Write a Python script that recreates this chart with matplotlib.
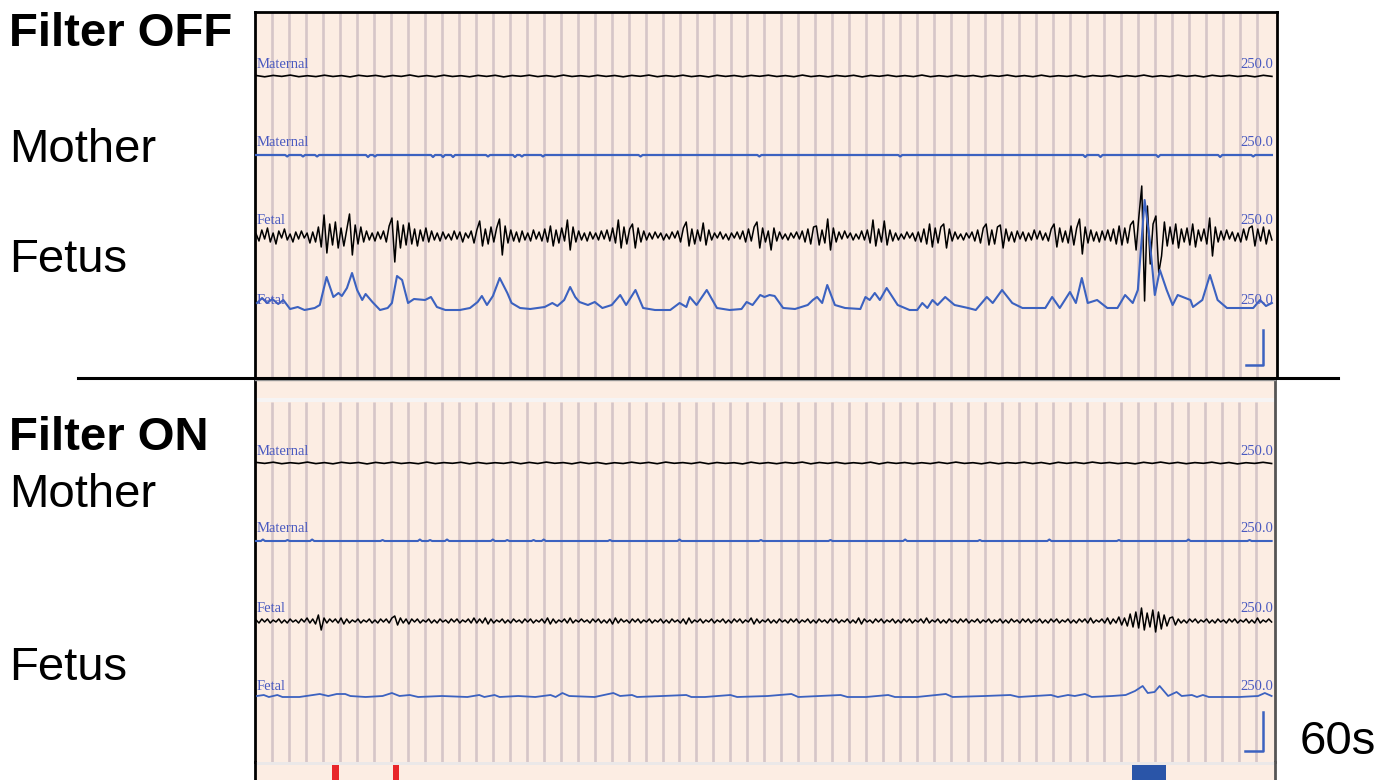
import matplotlib.pyplot as plt
from matplotlib.lines import Line2D
import numpy as np

W, H = 1390, 780          # figure size in px
PEACH = '#fcede3'
GRID = '#d6c6c8'
TRACE_BLUE = '#3c62c0'
LABEL_BLUE = '#4a5ac0'

# ---------------- recorded traces (amplitude in px, up is positive) ----------------
# time axis: 60 min per strip, one grid division = 1 min

# Filter OFF, maternal lead (black)
off_mat_black = [
    0.5, -0.8, 0.6, -0.4, 0.9, -0.7, 0.3, -0.6, 0.8, -0.5, 0.4, -0.9, 0.7, -0.3, 0.6, -0.8, 0.5, -0.4, 1.0, -0.6,
    0.4, -0.7, 0.8, -0.5, 0.3, -0.8, 0.6, -0.4, 0.7, -0.9, 0.5, -0.3, 0.8, -0.6, 0.4, -0.7, 0.9, -0.5, 0.3, -0.6,
    0.7, -0.4, 0.5, -0.8, 0.6, -0.3, 0.9, -0.7, 0.4, -0.5, 0.8, -0.6, 0.3, -0.9, 0.7, -0.4, 0.5, -0.7, 0.6, -0.3,
    0.8, -0.5, 0.4, -0.7, 0.9, -0.6, 0.3, -0.8, 0.5, -0.4, 0.7, -0.9, 0.6, -0.3, 0.8, -0.5, 0.4, -0.6, 0.9, -0.7,
    0.3, -0.6, 0.7, -0.4, 0.5, -0.8, 0.6, -0.3, 0.9, -0.5, 0.4, -0.7, 0.8, -0.6, 0.3, -0.4, 0.7, -0.9, 0.5, -0.3,
    0.6, -0.8, 0.4, -0.5, 0.9, -0.7, 0.3, -0.6, 0.8, -0.4, 0.5, -0.9, 0.7, -0.3, 0.6, -0.5, 0.4, -0.8, 0.7, -0.4,
]

# Filter OFF, maternal lead (blue): small dips (time in min, depth in px)
off_mat_blue_dip_t = [1.88, 2.81, 3.64, 6.64, 7.05, 10.47, 11.06, 11.65, 13.71, 15.30, 15.71, 16.95,
                      22.7, 29.7, 38.0, 48.9, 49.8, 53.2, 56.85, 58.8]
off_mat_blue_dip_d = [1.5, 1.5, 1.5, 2, 1.5, 2, 2, 2, 1.5, 2, 1.5, 1.5,
                      1.5, 1.5, 1.5, 2, 2, 2, 2, 1.5]

# Filter OFF, fetal lead (black), 360 samples
off_fet_black = [
    2, -5, 6, -3, 8, -6, 3, -8, 5, -2, 7, -4, 2, -6, 4, -3, 5, -2, 3, -7,
    4, -6, 9, -11, 21, -17, 12, -9, 14, -12, 8, -10, 6, 22, -19, 11, -8, 9, -6, 5,
    -4, 3, -5, 4, -3, 5, -6, 10, 18, -26, 15, -12, 11, -9, 13, -8, 7, -10, 6, -5,
    8, -6, 5, -4, 3, -5, 4, -3, 2, -4, 5, -3, 4, -6, 3, -2, 5, -7, 6, 15,
    -10, 7, -8, 9, -6, 8, 17, -19, 10, -7, 6, -5, 4, -6, 5, -4, 3, -5, 6, -3,
    4, -5, 7, -6, 10, -10, 6, -7, 8, -5, 16, -14, 9, -6, 5, -4, 3, -5, 4, -3,
    3, -4, 5, -3, 6, -5, 8, -7, 16, -12, 9, -8, 7, 12, -12, 8, -6, 5, -4, 3,
    -3, 4, -2, 3, -4, 2, -3, 4, -2, 5, -6, 8, 14, -10, 7, -8, 6, -5, 13, -9,
    6, -4, 3, -2, 4, -3, 2, -4, 3, -2, 4, -3, 5, -6, 7, -5, 9, 14, -12, 8,
    -6, 5, -14, 8, -5, 4, -3, 2, -4, 3, -2, 4, -3, 5, -6, 7, -8, 9, 10, -9,
    6, -7, 17, -14, 8, -6, 4, -3, 5, -2, 3, -4, 2, -3, 5, -4, 6, -7, 16, -10,
    7, -6, 15, -9, 6, -5, 3, -4, 2, -3, 4, -2, 3, -5, 4, -6, 7, -8, 12, -11,
    8, -7, 9, 12, -12, 7, -5, 4, -3, 2, -4, 3, -2, 4, -5, 6, -7, 8, 12, -9,
    6, -8, 9, 11, -12, 7, -5, 4, -6, 5, -3, 4, -5, 3, -4, 6, -3, 5, -4, 3,
    -5, 7, 12, -11, 8, -6, 5, -7, 10, -9, 8, 17, -18, 9, -7, 6, -5, 4, -6, 5,
    -4, 6, -5, 7, -8, 10, -9, 8, -7, 11, 15, -14, 20, 50, -65, 30, -28, 12, 20, -37,
    -20, 14, -10, 9, -8, 12, -12, 7, -6, 8, -9, 12, -11, 6, -5, 7, -8, 18, -20, 9,
    -6, 5, -4, 6, -3, 4, -5, 3, -6, 7, -4, 8, 10, -10, 7, -5, 9, -8, 6, -4,
]

# Filter OFF, fetal lead (blue): breakpoints (min, px)
off_fet_blue_t = [
    0.1, 0.4, 0.7, 1.0, 1.35, 1.65, 2.05, 2.5, 2.9, 3.5, 3.8, 4.2, 4.6, 4.9, 5.1, 5.4, 5.7, 6.0, 6.3, 6.5,
    6.9, 7.35, 7.8, 8.05, 8.35, 8.65, 9.0, 9.35, 10.0, 10.35, 10.7, 11.2, 12.05, 12.65, 13.1, 13.35, 13.65, 14.0, 14.4, 14.85,
    15.1, 15.6, 16.2, 17.05, 17.5, 17.8, 18.2, 18.55, 18.85, 19.1, 19.6, 20.0, 20.45, 21.0, 21.5, 21.85, 22.4, 22.85, 23.55, 24.45,
    25.0, 25.4, 25.6, 26.0, 26.6, 27.2, 27.95, 28.65, 28.95, 29.3, 29.75, 30.0, 30.3, 30.6, 31.1, 31.8, 32.55, 32.85, 33.1, 33.4,
    33.7, 34.15, 34.75, 35.65, 35.95, 36.2, 36.5, 36.8, 37.2, 37.85, 38.55, 39.0, 39.3, 39.6, 39.9, 40.2, 40.65, 41.2, 42.0, 42.45,
    43.1, 43.45, 44.0, 44.6, 45.2, 46.55, 46.95, 47.4, 48.0, 48.35, 48.7, 49.05, 49.6, 50.2, 50.8, 51.25, 51.7, 52.0, 52.4, 52.7,
    53.0, 53.3, 53.7, 54.05, 54.35, 55.1, 55.25, 55.8, 56.25, 56.7, 57.25, 58.8, 59.2, 59.55, 59.9,
]
off_fet_blue_v = [
    7, 12, 7, 11, 6, 10, 1, 3, 0, 2, 5, 33, 13, 17, 14, 22, 37, 20, 10, 16,
    8, 0, 2, 7, 34, 30, 7, 11, 10, 13, 3, 0, 0, 2, 8, 14, 5, 14, 32, 17,
    7, 2, 1, 3, 7, 4, 10, 23, 13, 8, 5, 8, 2, 5, 15, 5, 20, 2, 0, 0,
    7, 3, 13, 5, 20, 2, 0, 1, 8, 5, 15, 13, 15, 14, 2, 1, 5, 10, 13, 7,
    25, 5, 2, 1, 13, 10, 17, 10, 22, 5, 0, 0, 7, 2, 10, 5, 13, 5, 2, 0,
    13, 7, 20, 7, 2, 2, 13, 2, 18, 7, 32, 7, 10, 2, 2, 15, 7, 20, 110, 70,
    15, 40, 20, 5, 15, 10, 3, 10, 35, 10, 2, 2, 10, 4, 7,
]

# Filter ON, maternal lead (black)
on_mat_black = [
    0.6, -0.4, 0.8, -0.7, 0.3, -0.5, 0.9, -0.6, 0.4, -0.8, 0.7, -0.3, 0.5, -0.9, 0.6, -0.4, 0.8, -0.5, 0.3, -0.7,
    0.9, -0.6, 0.4, -0.3, 0.7, -0.8, 0.5, -0.6, 0.3, -0.4, 0.8, -0.7, 0.6, -0.5, 0.9, -0.3, 0.4, -0.8, 0.7, -0.6,
    0.5, -0.9, 0.3, -0.5, 0.8, -0.4, 0.6, -0.7, 0.9, -0.3, 0.4, -0.6, 0.7, -0.8, 0.5, -0.4, 0.3, -0.9, 0.8, -0.5,
    0.4, -0.7, 0.6, -0.3, 0.9, -0.8, 0.5, -0.4, 0.7, -0.6, 0.3, -0.5, 0.8, -0.9, 0.6, -0.4, 0.5, -0.7, 0.3, -0.6,
    0.7, -0.5, 0.9, -0.4, 0.3, -0.8, 0.6, -0.7, 0.4, -0.3, 0.8, -0.6, 0.5, -0.9, 0.7, -0.4, 0.6, -0.5, 0.9, -0.3,
    0.5, -0.6, 0.3, -0.8, 0.7, -0.4, 0.9, -0.5, 0.6, -0.7, 0.4, -0.3, 0.8, -0.6, 0.5, -0.9, 0.3, -0.4, 0.7, -0.5,
]

# Filter ON, maternal lead (blue): small bumps (time in min, height in px)
on_mat_blue_bump_t = [0.45, 1.9, 3.35, 7.5, 9.7, 10.3, 11.3, 14.0, 14.85, 16.4, 17.0,
                      20.9, 25.0, 29.8, 33.9, 38.3, 42.7, 46.8, 50.9, 55.0, 58.6]
on_mat_blue_bump_h = [1.5, 1, 1.5, 1, 1.5, 1, 1.5, 1.5, 1, 1, 1.5,
                      1, 1.5, 1, 1, 1.5, 1, 1.5, 1, 1.5, 1]

# Filter ON, fetal lead (black), 360 samples
on_fet_black = [
    1, -2, 2, -1, 2, -2, 1, -1, 2, -2, 1, -2, 2, -1, 1, -2, 2, -1, 3, -2,
    2, -3, 6, -9, 3, -2, 2, -1, 2, -2, 3, -3, 2, -2, 1, -1, 2, -2, 1, -1,
    2, -2, 1, -2, 2, -1, 2, -2, 3, 5, -4, 3, -2, 2, -3, 2, -1, 2, -2, 1,
    -1, 2, -2, 1, -2, 2, -1, 1, -2, 2, -1, 2, -2, 1, -1, 2, -2, 3, -2, 2,
    -2, 3, -3, 2, -2, 1, -1, 2, -2, 1, -2, 2, -1, 1, -2, 2, -1, 2, -2, 1,
    -1, 2, -2, 3, -3, 2, -2, 1, -1, 2, -2, 3, -2, 1, -1, 2, -1, 1, -2, 2,
    -1, 2, -2, 1, -2, 2, -3, 3, -2, 2, -1, 1, -2, 2, -1, 2, -2, 1, -1, 2,
    -2, 1, -1, 2, -2, 1, -2, 2, -1, 1, -2, 2, -3, 3, -2, 1, -1, 2, -2, 1,
    -1, 2, -2, 1, -1, 2, -2, 1, -2, 2, -1, 2, -2, 1, -1, 3, -3, 2, -2, 1,
    -1, 2, -2, 1, -2, 2, -1, 1, -2, 2, -1, 2, -2, 1, -1, 2, -2, 1, -2, 2,
    -1, 1, -2, 2, -1, 2, -2, 1, -1, 2, -2, 1, -2, 3, -3, 2, -1, 1, -2, 2,
    -1, 2, -2, 1, -1, 2, -2, 1, -2, 2, -1, 2, -2, 1, -1, 2, -2, 3, -2, 1,
    -1, 2, -2, 1, -2, 2, -1, 1, -2, 2, -1, 2, -2, 1, -1, 2, -2, 1, -1, 2,
    -2, 1, -1, 2, -2, 1, -2, 2, -1, 1, -2, 2, -1, 2, -2, 1, -1, 2, -2, 1,
    -2, 2, -1, 2, -2, 1, -1, 2, -2, 1, -2, 2, -1, 2, -2, 3, -2, 1, -1, 2,
    -2, 3, -3, 2, -2, 4, -4, 3, -5, 7, -6, 9, -7, 13, -9, 8, -6, 11, -11, 9,
    -8, 6, -5, 3, 4, -4, 2, -2, 1, -2, 2, -1, 2, -2, 1, -1, 2, -2, 1, -2,
    2, -1, 1, -2, 2, -1, 2, -2, 1, -1, 2, -2, 1, -2, 3, -2, 1, -1, 2, -1,
]

# Filter ON, fetal lead (blue): breakpoints (min, px)
on_fet_blue_t = [
    0.1, 0.5, 0.8, 1.3, 1.6, 2.6, 3.0, 3.8, 4.3, 4.8, 5.3, 5.6, 6.5, 7.5, 8.05, 8.5, 9.1, 9.6, 11.0, 12.5,
    13.2, 13.5, 14.1, 14.4, 15.5, 16.5, 17.4, 17.7, 18.1, 18.5, 20.0, 21.1, 21.5, 22.2, 22.5, 24.0, 25.4, 25.7, 26.5, 28.0,
    28.4, 30.2, 31.6, 32.0, 34.5, 34.9, 36.0, 37.3, 37.7, 39.0, 40.7, 41.1, 43.0, 44.5, 45.0, 46.9, 47.3, 47.9, 48.3, 48.9,
    49.3, 50.5, 51.3, 51.85, 52.3, 52.6, 53.0, 53.3, 53.8, 54.3, 54.6, 55.2, 55.5, 55.85, 56.2, 58.0, 59.1, 59.5, 59.9,
]
on_fet_blue_v = [
    1, 2, 0, 2, 0, 0, 1, 3, 1, 3, 3, 1, 0, 1, 4, 1, 2, 0, 1, 0,
    2, 0, 2, 0, 1, 0, 2, 0, 4, 1, 0, 4, 1, 2, 0, 1, 2, 0, 0, 2,
    0, 1, 3, 0, 2, 0, 0, 2, 0, 0, 3, 0, 1, 2, 0, 2, 0, 2, 1, 3,
    0, 1, 2, 6, 11, 4, 5, 11, 1, 5, 1, 2, 0, 2, 0, 0, 1, 4, 1,
]

# event markers under the strip
event_t0 = [4.55, 8.1, 51.7]
event_t1 = [4.95, 8.45, 53.65]
event_colors = ['#e8262a', '#e8262a', '#2a55a8']


def dips_to_line(times, depths, sign):
    t, v = [0.0], [0.0]
    for tc, d in zip(times, depths):
        t += [tc - 0.12, tc, tc + 0.12]
        v += [0.0, sign * d, 0.0]
    t.append(59.9)
    v.append(0.0)
    return np.array(t), np.array(v)


fig = plt.figure(figsize=(W / 100, H / 100), dpi=100)


def fx(x):
    return x / W


def fy(y):
    return 1 - y / H


x0 = 255.3
ax_off = fig.add_axes([fx(x0), fy(378), (1277 - x0) / W, (378 - 12) / H])
ax_on = fig.add_axes([fx(x0), fy(762), (1275 - x0) / W, (762 - 380) / H])
ax_evt = fig.add_axes([fx(x0), fy(780), (1275 - x0) / W, 18 / H])

ax_off.set_xlim(0, 60.2)
ax_off.set_ylim(0, 366)
ax_on.set_xlim(0, 60.1)
ax_on.set_ylim(0, 382)
ax_evt.set_xlim(0, 60.1)
ax_evt.set_ylim(0, 18)

for ax in (ax_off, ax_on, ax_evt):
    ax.set_facecolor(PEACH)
    ax.set_xticks([])
    ax.set_yticks([])
    for s in ax.spines.values():
        s.set_visible(False)

minutes = np.arange(1, 60)
ax_off.vlines(minutes, 0, 366, color=GRID, lw=1.9, zorder=1)
ax_on.vlines(minutes, 0, 360, color=GRID, lw=1.9, zorder=1)
# header band of the lower strip
ax_on.axhspan(360, 364, color='#f6f4f4', lw=0, zorder=1)

t_black = np.linspace(0.05, 59.9, 360)
t_mat = np.linspace(0.05, 59.9, 120)

off_mb_t, off_mb_v = dips_to_line(off_mat_blue_dip_t, off_mat_blue_dip_d, -1)
on_mb_t, on_mb_v = dips_to_line(on_mat_blue_bump_t, on_mat_blue_bump_h, 1)

# (axes, name, baseline, label offset, t, values, colour, lw)
rows = [
    (ax_off, 'Maternal', 302, 12, t_mat, off_mat_black, 'black', 1.2),
    (ax_off, 'Maternal', 223, 12, off_mb_t, off_mb_v, TRACE_BLUE, 1.6),
    (ax_off, 'Fetal', 142, 15, t_black, off_fet_black, 'black', 1.1),
    (ax_off, 'Fetal', 68, 10, off_fet_blue_t, off_fet_blue_v, TRACE_BLUE, 1.5),
    (ax_on, 'Maternal', 299, 12, t_mat, on_mat_black, 'black', 1.2),
    (ax_on, 'Maternal', 221, 12, on_mb_t, on_mb_v, TRACE_BLUE, 1.5),
    (ax_on, 'Fetal', 141, 13, t_black, on_fet_black, 'black', 1.1),
    (ax_on, 'Fetal', 65, 10, on_fet_blue_t, on_fet_blue_v, TRACE_BLUE, 1.3),
]
for ax, name, base, off, t, v, col, lw in rows:
    ax.plot(t, base + np.asarray(v, dtype=float), color=col, lw=lw, zorder=3)
    ax.text(0.05, base + off, name, color=LABEL_BLUE, fontsize=10.5,
            family='Liberation Serif', va='center', ha='left', zorder=4)
    ax.text(59.98, base + off, '250.0', color=LABEL_BLUE, fontsize=10.5,
            family='Liberation Serif', va='center', ha='right', zorder=4)

# 1 min scale bars
ax_off.plot([58.4, 59.4, 59.4], [13, 13, 48], color=TRACE_BLUE, lw=1.8, zorder=4)
ax_on.plot([58.35, 59.4, 59.4], [11, 11, 50], color=TRACE_BLUE, lw=1.8, zorder=4)

# event strip
ax_evt.axhspan(15, 18, color='#ebe8e8', lw=0)
for a, b, c in zip(event_t0, event_t1, event_colors):
    ax_evt.axvspan(a, b, ymin=0, ymax=0.83, color=c, lw=0)

# frames
for s in ('left', 'top', 'right'):
    ax_off.spines[s].set_visible(True)
    ax_off.spines[s].set_linewidth(2.0)
    ax_off.spines[s].set_color('black')
for ax in (ax_on, ax_evt):
    ax.spines['left'].set_visible(True)
    ax.spines['left'].set_linewidth(2.0)
    ax.spines['left'].set_color('black')
    ax.spines['right'].set_visible(True)
    ax.spines['right'].set_linewidth(2.0)
    ax.spines['right'].set_color('#555555')
ax_on.spines['top'].set_visible(True)
ax_on.spines['top'].set_color('#9a9a9a')
ax_on.spines['top'].set_linewidth(1.0)

# separator between the two recordings
fig.add_artist(Line2D([fx(78), fx(1338)], [fy(378), fy(378)], color='black', lw=2.2))

txt = dict(family='Liberation Sans', fontsize=34, va='baseline', ha='left', color='black')
fig.text(fx(9), fy(46), 'Filter OFF', fontweight='bold', **txt)
fig.text(fx(9), fy(162), 'Mother', **txt)
fig.text(fx(9), fy(272), 'Fetus', **txt)
fig.text(fx(9), fy(450), 'Filter ON', fontweight='bold', **txt)
fig.text(fx(9), fy(507), 'Mother', **txt)
fig.text(fx(9), fy(680), 'Fetus', **txt)
fig.text(fx(1300), fy(754), '60s', **txt)

fig.savefig('out.png', dpi=100)
